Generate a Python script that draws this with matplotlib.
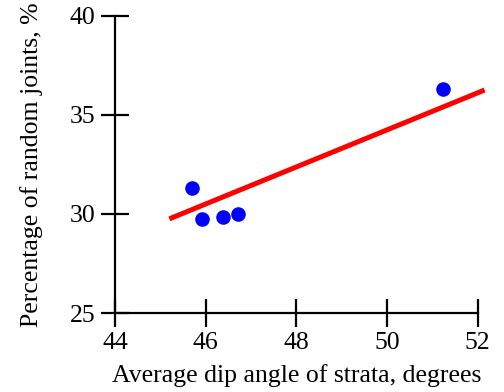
import matplotlib
matplotlib.use("Agg")
import matplotlib.pyplot as plt

# measured points
dip_angle = [45.69, 45.91, 46.39, 46.72, 51.23]
random_joints = [31.33, 29.72, 29.82, 29.97, 36.31]

# trend line end points
fit_x = [45.2, 52.15]
fit_y = [29.75, 36.25]

xticks = [44, 46, 48, 50, 52]
yticks = [25, 30, 35, 40]

plt.rcParams['font.family'] = ['Liberation Serif', 'DejaVu Serif']

fig = plt.figure(figsize=(5.04, 3.92), dpi=100)
ax = fig.add_axes([0.228, 0.2015, 0.72, 0.7585])

ax.plot(fit_x, fit_y, color='red', lw=3.6, clip_on=False, solid_capstyle='butt', zorder=2)
ax.plot(dip_angle, random_joints, 'o', color='blue', ms=10.5, mec='none', zorder=3)

ax.set_xlim(44, 52)
ax.set_ylim(25, 40)
ax.set_xticks(xticks)
ax.set_yticks(yticks)

for s in ['top', 'right']:
    ax.spines[s].set_visible(False)
for s in ['left', 'bottom']:
    ax.spines[s].set_linewidth(1.6)

ax.tick_params(direction='inout', length=20, width=1.6, labelsize=18.5, pad=4)

ax.set_xlabel('Average dip angle of strata, degrees', fontsize=18.5, labelpad=7)
ax.set_ylabel('Percentage of random joints, %', fontsize=18.5, labelpad=19)

fig.savefig('out.png', dpi=100)
